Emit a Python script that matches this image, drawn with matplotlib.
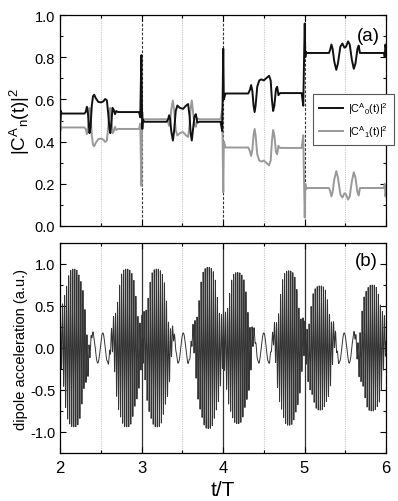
import numpy as np
import matplotlib
matplotlib.use("Agg")
import matplotlib.pyplot as plt
from matplotlib.ticker import MultipleLocator

plt.rcParams['font.family'] = ['Liberation Sans', 'DejaVu Sans']
plt.rcParams['mathtext.fontset'] = 'custom'
plt.rcParams['mathtext.rm'] = 'Liberation Sans'
plt.rcParams['mathtext.it'] = 'Liberation Sans'
plt.rcParams['mathtext.default'] = 'regular'

# ---------------- data: panel (a) population |C^A_0(t)|^2 ----------------
t_pop = [2.000, 2.004, 2.010, 2.020, 2.300, 2.315, 2.330, 2.340, 2.350, 2.362, 2.375, 2.390,
         2.405, 2.420, 2.440, 2.470, 2.500, 2.530, 2.555, 2.575, 2.590, 2.605, 2.617, 2.630,
         2.645, 2.660, 2.675, 2.690, 2.710, 2.970, 2.985, 2.993, 2.998, 3.004, 3.010, 3.018,
         3.030, 3.310, 3.325, 3.340, 3.352, 3.365, 3.385, 3.400, 3.420, 3.440, 3.470, 3.510,
         3.545, 3.572, 3.590, 3.603, 3.617, 3.630, 3.650, 3.667, 3.685, 3.710, 3.970, 3.990,
         3.997, 4.003, 4.010, 4.018, 4.030, 4.310, 4.330, 4.345, 4.360, 4.375, 4.388, 4.400,
         4.420, 4.445, 4.470, 4.500, 4.530, 4.565, 4.585, 4.600, 4.615, 4.630, 4.650, 4.665,
         4.680, 4.700, 4.965, 4.985, 4.995, 5.003, 5.010, 5.018, 5.030, 5.300, 5.315, 5.330,
         5.345, 5.365, 5.390, 5.410, 5.440, 5.465, 5.490, 5.510, 5.535, 5.555, 5.580, 5.605,
         5.625, 5.650, 5.665, 5.680, 5.700, 5.975, 5.985, 5.993, 6.000]
pop0 = [0.620, 0.500, 0.545, 0.533, 0.533, 0.540, 0.565, 0.545, 0.500, 0.440, 0.470, 0.570,
        0.615, 0.622, 0.605, 0.588, 0.586, 0.590, 0.602, 0.595, 0.540, 0.470, 0.440, 0.490,
        0.560, 0.550, 0.530, 0.545, 0.540, 0.540, 0.515, 0.700, 0.810, 0.600, 0.460, 0.505,
        0.494, 0.494, 0.505, 0.525, 0.505, 0.450, 0.405, 0.450, 0.545, 0.571, 0.560, 0.555,
        0.570, 0.578, 0.520, 0.440, 0.405, 0.450, 0.520, 0.530, 0.490, 0.494, 0.494, 0.450,
        0.650, 0.840, 0.600, 0.610, 0.628, 0.628, 0.645, 0.668, 0.640, 0.570, 0.540, 0.570,
        0.660, 0.690, 0.695, 0.690, 0.700, 0.712, 0.690, 0.600, 0.545, 0.570, 0.650, 0.660,
        0.620, 0.630, 0.630, 0.570, 0.800, 0.960, 0.800, 0.825, 0.820, 0.820, 0.835, 0.860,
        0.840, 0.780, 0.740, 0.770, 0.850, 0.865, 0.845, 0.850, 0.875, 0.860, 0.790, 0.745,
        0.770, 0.840, 0.855, 0.820, 0.820, 0.820, 0.800, 0.860, 0.840]
pop1 = [1.0 - p for p in pop0]

# ---------------- data: panel (b) dipole acceleration bursts ----------------
burst_centers = [2.17, 2.82, 3.19, 3.82, 4.18, 4.81, 5.19, 5.83]
burst_amps = [0.94, 0.94, 0.94, 0.96, 0.90, 0.92, 0.74, 0.75]
low_amp = 0.18          # amplitude of the slow oscillation between bursts
low_freq = 8.1          # cycles per T between bursts
high_freq = 40.0        # cycles per T inside bursts
burst_halfwidth = 0.15

legend_labels = [r'$|C^{A}{}_{0}(t)|^{2}$', r'$|C^{A}{}_{1}(t)|^{2}$']

# ---------------- figure ----------------
fig = plt.figure(figsize=(3.98, 5.02), dpi=100)
axa = fig.add_axes([60/398, 1-227/502, 326/398, 211/502])
axb = fig.add_axes([60/398, 1-454/502, 326/398, 210/502])

def style(ax):
    ax.tick_params(which='both', direction='in', top=True, right=True, width=0.8, labelsize=10.5)
    ax.tick_params(which='major', length=4)
    ax.tick_params(which='minor', length=2.5)
    for s in ax.spines.values():
        s.set_linewidth(0.9)

# panel (a)
for xv in [2.5, 3.5, 4.5, 5.5]:
    axa.axvline(xv, color='#c8c8c8', lw=0.8, ls=(0, (1, 1)), zorder=1)
for xv in [3, 4, 5]:
    axa.axvline(xv, color='#333333', lw=0.8, ls=(0, (2.5, 1.5)), zorder=1)
l1, = axa.plot(t_pop, pop0, color='#111111', lw=1.4, zorder=3)
l2, = axa.plot(t_pop, pop1, color='#999999', lw=1.4, zorder=2)
axa.set_xlim(2, 6)
axa.set_ylim(0, 1.0)
axa.xaxis.set_major_locator(MultipleLocator(1))
axa.xaxis.set_minor_locator(MultipleLocator(0.5))
axa.yaxis.set_minor_locator(MultipleLocator(0.1))
axa.set_yticks([0, 0.2, 0.4, 0.6, 0.8, 1.0])
axa.set_yticklabels(['0.0', '0.2', '0.4', '0.6', '0.8', '1.0'])
axa.tick_params(labelbottom=False)
style(axa)
axa.set_ylabel(r'$|C^{A}{}_{n}(t)|^{2}$', fontsize=13.5, labelpad=2)
axa.text(0.945, 0.905, '(a)', transform=axa.transAxes, fontsize=13.5, ha='center', va='center')
leg = fig.legend([l1, l2], legend_labels, loc='upper left',
                 bbox_to_anchor=(313/398, 1-95/502), bbox_transform=fig.transFigure,
                 fontsize=7.8, frameon=True, fancybox=False, framealpha=1,
                 edgecolor='#555555', handlelength=2.2, borderaxespad=0,
                 borderpad=0.55, labelspacing=0.7, handletextpad=0.45)
leg.get_frame().set_linewidth(0.8)

# panel (b)
t = np.linspace(2, 6, 16000)
env = np.zeros_like(t)
envn = np.zeros_like(t)
for c, a in zip(burst_centers, burst_amps):
    shape = np.exp(-(np.abs(t - c) / burst_halfwidth) ** 3)
    env += a * shape
    envn += shape
low_env = low_amp * np.clip(1 - envn, 0, 1)
sig = low_env * np.sin(2 * np.pi * low_freq * (t - 2.0)) + env * np.sin(2 * np.pi * high_freq * t)

for xv in [2.5, 3.5, 4.5, 5.5]:
    axb.axvline(xv, color='#c8c8c8', lw=0.8, ls=(0, (1, 1)), zorder=1)
for xv in [3, 4, 5]:
    axb.axvline(xv, color='#333333', lw=0.9, zorder=1)
axb.plot(t, sig, color='#333333', lw=0.7, zorder=2)
axb.set_xlim(2, 6)
axb.set_ylim(-1.25, 1.25)
axb.set_yticks([-1.0, -0.5, 0.0, 0.5, 1.0])
axb.set_yticklabels(['-1.0', '-0.5', '0.0', '0.5', '1.0'])
axb.yaxis.set_minor_locator(MultipleLocator(0.25))
axb.set_xticks([2, 3, 4, 5, 6])
axb.set_xticklabels(['2', '3', '4', '5', '6'])
axb.xaxis.set_minor_locator(MultipleLocator(0.5))
style(axb)
axb.tick_params(axis='x', labelsize=12, pad=5)
axb.set_ylabel('dipole acceleration (a.u.)', fontsize=10.5, labelpad=1)
axb.set_xlabel('t/T', fontsize=15, labelpad=4)
axb.text(0.94, 0.915, '(b)', transform=axb.transAxes, fontsize=13.5, ha='center', va='center')

fig.savefig('out.png', dpi=100)
